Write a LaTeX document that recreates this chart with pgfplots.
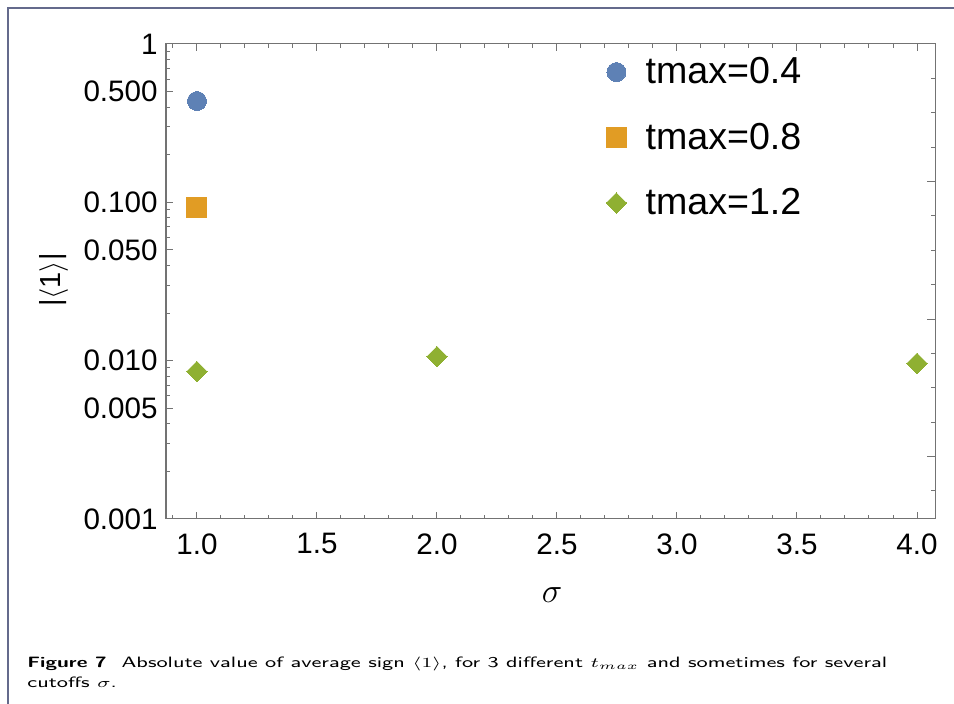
\documentclass[border=0pt]{standalone}
\usepackage{fontspec}
\setmainfont{Liberation Sans}
\usepackage{graphicx}
\usepackage{pgfplots}
\pgfplotsset{compat=1.18}
\definecolor{c1}{rgb}{0.368417,0.506779,0.709798}
\definecolor{c2}{rgb}{0.880722,0.611041,0.142051}
\definecolor{c3}{rgb}{0.560181,0.691569,0.194885}
\definecolor{frm}{RGB}{100,106,140}
\definecolor{axc}{gray}{0.45}
\begin{document}
\begin{tikzpicture}
\path[use as bounding box] (0,0) rectangle (477pt,352pt);
\draw[frm, line width=0.7pt] (4pt,0) -- (4pt,348pt) -- (477pt,348pt);
\begin{axis}[
  at={(83pt,92.5pt)}, anchor=south west,
  scale only axis, width=384.5pt, height=237.5pt,
  xmin=0.871, xmax=4.075, ymode=log, ymin=0.001, ymax=1,
  axis line style={axc, line width=0.5pt},
  tick style={axc, line width=0.5pt},
  tick align=inside,
  major tick length=3.5pt, minor tick length=2pt,
  /pgf/number format/assume math mode=true,
  ticklabel style={font=\fontsize{14.8}{16}\selectfont, text=black},
  xtick={1,1.5,2,2.5,3,3.5,4},
  xticklabels={1.0,1.5,2.0,2.5,3.0,3.5,4.0},
  minor xtick={0.9,1.1,1.2,1.3,1.4,1.6,1.7,1.8,1.9,2.1,2.2,2.3,2.4,2.6,2.7,2.8,2.9,3.1,3.2,3.3,3.4,3.6,3.7,3.8,3.9},
  ytick pos=left,
  ytick={0.001,0.005,0.01,0.05,0.1,0.5,1},
  yticklabels={0.001,0.005,0.010,0.050,0.100,0.500,1},
  minor ytick={0.002,0.003,0.004,0.006,0.007,0.008,0.009,0.02,0.03,0.04,0.06,0.07,0.08,0.09,0.2,0.3,0.4,0.6,0.7,0.8,0.9},
  yticklabel style={inner sep=0pt, xshift=-4pt},
  xticklabel style={inner sep=0pt, yshift=-7pt},
  xlabel={$\sigma$},
  xlabel style={at={(rel axis cs:0.502,-0.16)}, anchor=center, font=\fontsize{18}{20}\selectfont},
  ylabel={|$\langle$1$\rangle$|},
  ylabel style={at={(rel axis cs:-0.146,0.503)}, anchor=center, font=\fontsize{14.5}{16}\selectfont},
  legend style={draw=none, fill=none, at={(rel axis cs:0.572,0.981)}, anchor=north west,
    font=\fontsize{18.8}{20}\selectfont, row sep=14.1pt, column sep=7.5pt, inner sep=0pt},
  legend cell align=left,
]
\addplot[only marks, c1, mark=*, mark size=4.75pt, mark options={draw=c1, fill=c1, line width=0pt}] coordinates {(1,0.436)};
\addlegendentry{tmax=0.4}
\addplot[only marks, c2, mark=square*, mark size=5pt, mark options={draw=c2, fill=c2, line width=0pt}] coordinates {(1,0.093)};
\addlegendentry{tmax=0.8}
\addplot[only marks, c3, mark=square*, mark size=3.6pt, mark options={draw=c3, fill=c3, line width=0pt, rotate=45},
  error bars/.cd, y dir=both, y explicit,
  error bar style={c3, line width=0.8pt},
  error mark options={rotate=90, mark size=2.5pt, c3, line width=0.8pt}]
  table[x=x, y=y, y error=e] {
x y e
1 0.00855 0.0003
2 0.0106 0.0007
4 0.00962 0.0006
};
\addlegendentry{tmax=1.2}
\end{axis}
\begin{axis}[
  at={(83pt,92.5pt)}, anchor=south west,
  scale only axis, width=384.5pt, height=237.5pt,
  xmin=0.871, xmax=4.075, ymode=log, ymin=0.001, ymax=1,
  axis line style={axc, line width=0.5pt},
  tick style={axc, line width=0.5pt},
  tick align=inside,
  major tick length=4pt, minor tick length=2pt,
  xtick=\empty, ytick pos=right,
  ytick={1,0.135335,0.0183156,0.00247875},
  minor ytick={0.606531,0.367879,0.22313,0.082085,0.049787,0.030197,0.011109,0.0067379,0.0040868,0.0015034},
  yticklabels={},
]
\addplot[draw=none] coordinates {(1,0.5)};
\end{axis}
\node[anchor=base west, inner sep=0pt, font=\sffamily\fontsize{7.5}{10}\selectfont] at (13.5pt,18.15pt)
  {\scalebox{1.40}[1]{\textbf{Figure 7}\ \ Absolute value of average sign $\langle 1\rangle$, for 3 different $t_{max}$ and sometimes for several}};
\node[anchor=base west, inner sep=0pt, font=\sffamily\fontsize{7.5}{10}\selectfont] at (13.5pt,8.15pt)
  {\scalebox{1.40}[1]{cutoffs $\sigma$.}};
\end{tikzpicture}
\end{document}
